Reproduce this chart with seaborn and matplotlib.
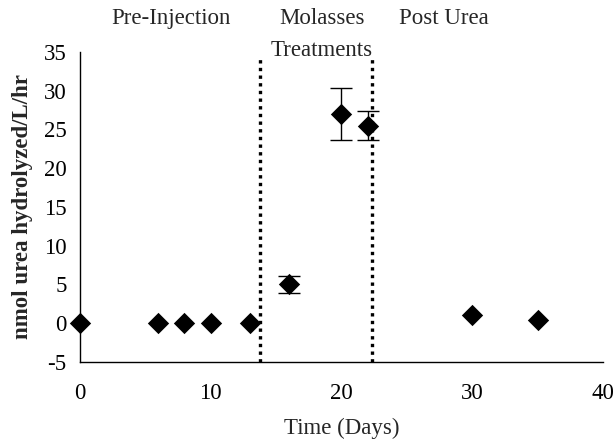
import matplotlib
matplotlib.use("Agg")
import matplotlib.pyplot as plt
import seaborn as sns
import pandas as pd

# Urea hydrolysis rate over the experiment
days = [0, 6, 8, 10, 13, 16, 20, 22, 30, 35]
rate = [0.0, 0.0, 0.0, 0.0, 0.0, 5.0, 27.0, 25.5, 1.0, 0.4]
rate_err = [0.0, 0.0, 0.0, 0.0, 0.0, 1.1, 3.4, 1.9, 0.0, 0.0]

# Treatment boundaries (days) and phase labels
boundaries = [13.8, 22.35]
phase_labels = ["Pre-Injection", "Molasses", "Post Urea"]
phase_x = [7.0, 18.5, 27.8]
sub_label = "Treatments"
sub_x = 18.5

x_ticks = [0, 10, 20, 30, 40]
y_ticks = [-5, 0, 5, 10, 15, 20, 25, 30, 35]

df = pd.DataFrame({"day": days, "rate": rate, "err": rate_err})

sns.set_style("white")
plt.rcParams["font.family"] = ["Liberation Serif", "DejaVu Serif"]
FS = 16.5

fig = plt.figure(figsize=(6.14, 4.45), dpi=100)
ax = fig.add_axes([0.130, 0.187, 0.852, 0.696])

# error bars first, then the diamonds on top
eb = df[df["err"] > 0]
ax.errorbar(eb["day"], eb["rate"], yerr=eb["err"], fmt="none",
            ecolor="black", elinewidth=1.0, capsize=8, capthick=1.0, zorder=2)
sns.scatterplot(data=df, x="day", y="rate", marker="D", s=118,
                color="black", edgecolor="black", linewidth=0, ax=ax,
                zorder=3, clip_on=False)

for b in boundaries:
    ax.plot([b, b], [-5, 34.4], color="black", lw=2.4,
            linestyle=(0, (1, 1.3)), zorder=1, clip_on=False)

ax.set_xlim(0, 40)
ax.set_ylim(-5, 35)
ax.set_xticks(x_ticks)
ax.set_yticks(y_ticks)
ax.set_xticklabels([str(v) for v in x_ticks], fontsize=FS)
ax.set_yticklabels([str(v) for v in y_ticks], fontsize=FS)
ax.tick_params(axis="both", direction="out", length=4.5, width=1,
               color="black", labelcolor="black")
ax.tick_params(axis="y", pad=5)
ax.tick_params(axis="x", pad=11)

for side in ["top", "right"]:
    ax.spines[side].set_visible(False)
for side in ["left", "bottom"]:
    ax.spines[side].set_color("black")
    ax.spines[side].set_linewidth(1.0)

ax.set_xlabel("Time (Days)", fontsize=FS, labelpad=10)
ax.set_ylabel("nmol urea hydrolyzed/L/hr", fontsize=FS, fontweight="bold",
              labelpad=8)

for label, xp in zip(phase_labels, phase_x):
    ax.text(xp, 39.3, label, ha="center", va="center", fontsize=FS,
            clip_on=False)
ax.text(sub_x, 35.2, sub_label, ha="center", va="center", fontsize=FS,
        clip_on=False)

fig.savefig("out.png", dpi=100)
